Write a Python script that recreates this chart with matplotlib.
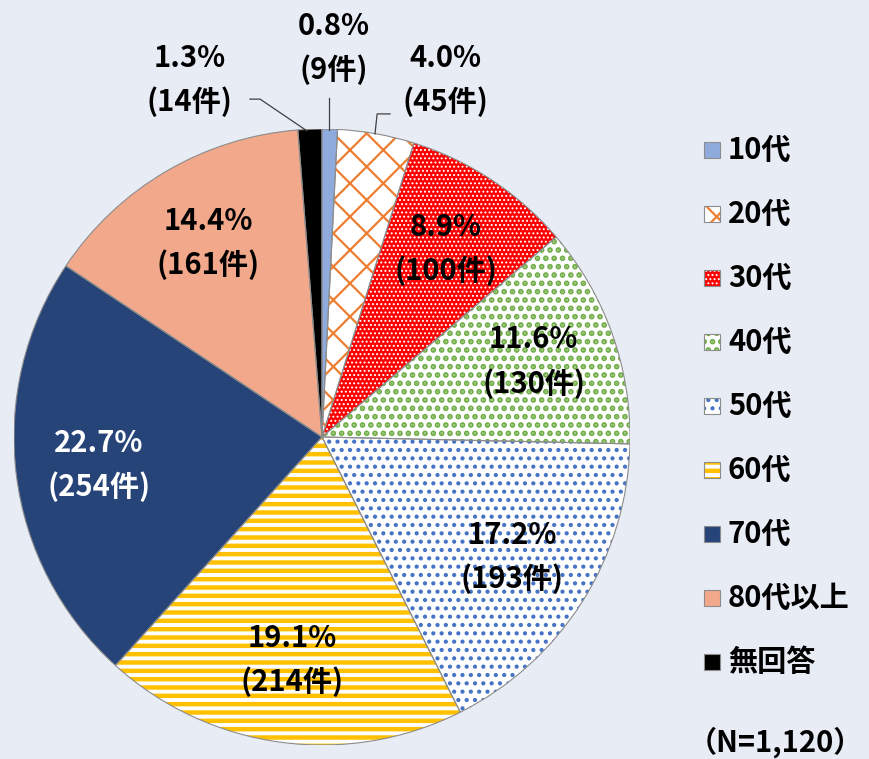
import matplotlib.pyplot as plt
from matplotlib.patches import Wedge, Rectangle
import numpy as np

plt.rcParams['font.family'] = ['Noto Sans CJK JP', 'DejaVu Sans']

labels = ['10代', '20代', '30代', '40代', '50代', '60代', '70代', '80代以上', '無回答']
counts = [9, 45, 100, 130, 193, 214, 254, 161, 14]
pcts = [0.8, 4.0, 8.9, 11.6, 17.2, 19.1, 22.7, 14.4, 1.3]

faces = ['#8FAADC', 'white', '#FF0000', 'white', 'white', 'white', '#264478', '#F2A88A', 'black']
hcolors = ['#8FAADC', '#ED7D31', 'white', '#70AD47', '#4472C4', '#FFC000', '#264478', '#F2A88A', 'black']
hatches = [None, 'x', '....', '..', '..', '--', None, None, None]
hlw = [1, 1.6, 0.9, 2.8, 1.8, 3.2, 1, 1, 1]
txtcol = ['black'] * 6 + ['white', 'black', 'black']

FS = 21
bg = '#E8ECF5'
fig = plt.figure(figsize=(8.7, 7.59), dpi=100, facecolor=bg)
ax = fig.add_axes([14 / 870, 14 / 759, 616 / 870, 616 / 759])
ax.set_facecolor(bg)


def set_hlw(p, lw):
    if hasattr(p, 'set_hatch_linewidth'):
        p.set_hatch_linewidth(lw)
    else:
        p._hatch_linewidth = lw


wedges, _ = ax.pie(counts, startangle=90, counterclock=False, radius=1)
for w, fc, hc, h, lw in zip(wedges, faces, hcolors, hatches, hlw):
    w.set_facecolor(fc)
    w.set_edgecolor(hc)
    w.set_linewidth(0)
    if h:
        w.set_hatch(h)
        set_hlw(w, lw)
    # outline
    ax.add_patch(Wedge(w.center, w.r, w.theta1, w.theta2, fill=False,
                       edgecolor='#8C8C8C', lw=0.8))

ax.set_xlim(-1, 1)
ax.set_ylim(-1, 1)
ax.axis('off')

# labels outside for the small slices
outside = {0: (0.039, 1.263), 1: (0.40, 1.159), 8: (-0.43, 1.159)}
leaders = {
    0: [(0.023, 0.997), (0.023, 1.101)],
    1: [(0.172, 0.984), (0.179, 1.049), (0.221, 1.049)],
    8: [(-0.049, 0.994), (-0.201, 1.097), (-0.234, 1.097)],
}
for i, w in enumerate(wedges):
    txt = f'{pcts[i]:.1f}%\n({counts[i]}件)'
    if i in outside:
        x, y = outside[i]
        pts = np.array(leaders[i])
        ax.plot(pts[:, 0], pts[:, 1], color='#404040', lw=0.9, clip_on=False)
    else:
        ang = np.deg2rad((w.theta1 + w.theta2) / 2)
        x, y = 0.73 * np.cos(ang), 0.73 * np.sin(ang)
    ax.text(x, y, txt, ha='center', va='center', fontsize=FS, fontweight='bold',
            color=txtcol[i], linespacing=1.55, clip_on=False)

# legend drawn by hand
for i, lab in enumerate(labels):
    yc = 1 - (150 + i * 64.0) / 759
    sq = Rectangle((704 / 870, yc - 8 / 759), 16 / 870, 16 / 759,
                   transform=fig.transFigure, facecolor=faces[i],
                   edgecolor=hcolors[i], lw=0, hatch=hatches[i])
    if hatches[i]:
        set_hlw(sq, hlw[i])
    fig.patches.append(sq)
    fig.patches.append(Rectangle((704 / 870, yc - 8 / 759), 16 / 870, 16 / 759,
                                 transform=fig.transFigure, fill=False,
                                 edgecolor='#8C8C8C', lw=0.8))
    fig.text(728 / 870, yc, lab, ha='left', va='center', fontsize=FS,
             fontweight='bold')

fig.text(775 / 870, 1 - 742 / 759, '（N=1,120）', ha='center', va='center',
         fontsize=FS, fontweight='bold')

fig.savefig('out.png', dpi=100, facecolor=bg)
